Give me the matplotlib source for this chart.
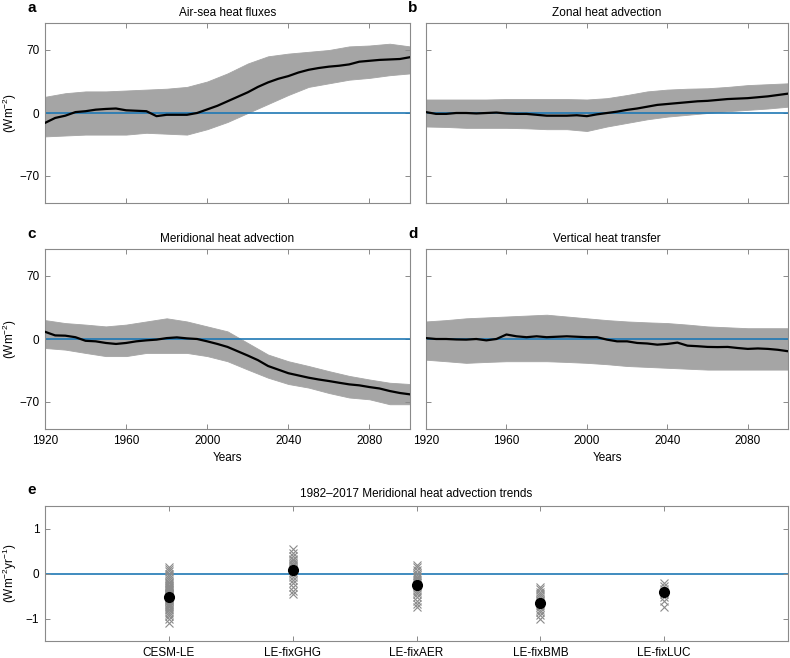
import numpy as np
import matplotlib
matplotlib.use("Agg")
import matplotlib.pyplot as plt

plt.rcParams['font.family'] = ['Liberation Sans', 'DejaVu Sans']
plt.rcParams['mathtext.default'] = 'regular'

# ---------------- data ----------------
years_mean = list(range(1920, 2101, 5))
years_env = list(range(1920, 2101, 10))

a_mean = [-11, -5.5, -3, 1, 2, 3.7, 4.5, 5, 3, 2.5, 2, -3.5, -2, -2, -2, 0, 4, 8, 13, 18,
          23, 29, 34, 38, 41, 45, 48, 50, 51.5, 52.5, 54, 57, 58, 59, 59.5, 60, 62]
a_upper = [18, 22, 24, 24, 25, 26, 27, 29, 35, 44, 55, 63, 66, 68, 70, 74, 75, 77, 74]
a_lower = [-26, -25, -24, -24, -24, -22, -23, -24, -18, -10, 0, 10, 20, 29, 33, 37, 39, 42, 44]

b_mean = [1, -1, -1, 0, 0, -0.5, 0, 0.5, -0.5, -1, -1, -2, -3, -3, -3, -2.5, -3.5, -1.5, 0, 1.5,
          3.5, 5, 7, 9, 10, 11, 12, 13, 13.5, 14.5, 15.5, 16, 16.5, 17.5, 18.5, 20, 21.5]
b_upper = [15, 15, 15, 15, 15.5, 15.5, 15.5, 15.5, 15, 16.5, 20, 24, 26, 27, 27.5, 29, 31, 32, 33]
b_lower = [-15, -15.5, -16.5, -16.5, -16.5, -17, -18, -18, -20, -15, -11, -7, -4, -2, 0, 2, 3.5, 5, 7]

c_mean = [8, 4, 3.7, 2, -2, -2.6, -4.4, -5.5, -4.4, -2.6, -1.5, -0.7, 1, 1.8, 0.7, 0, -2.6, -5.5,
          -8.8, -13.6, -18.4, -23.5, -30, -34, -38, -40.5, -43, -45, -46.7, -48.6, -50.4, -51.5,
          -53.4, -55, -57.8, -60, -61.5]
c_upper = [21, 17.7, 16, 14, 16, 19.5, 23, 19.5, 14, 8.5, -4.4, -17.3, -24.7, -30, -35.7, -41, -45, -48.6, -50]
c_lower = [-10, -11.8, -15.5, -19, -19, -15.5, -15.5, -15.5, -19, -24.7, -34, -43, -50, -54, -60, -65, -67, -72.5, -72.5]

d_mean = [1, 0, 0, -0.5, -0.7, 0, -1.5, 0, 5, 3, 2, 3, 2, 2.5, 3, 2.5, 2, 2, -0.7, -2.6,
          -2.6, -4.4, -5, -6.3, -5.5, -4, -7.4, -8, -8.8, -9, -8.8, -10, -11, -10.5, -11, -12, -13.6]
d_upper = [19.5, 21, 23, 24, 25, 26, 27, 25, 23, 21, 19.5, 18.5, 17.7, 16, 14, 13, 12, 12, 12]
d_lower = [-23, -24.7, -26.5, -25.5, -24.7, -24.7, -24.7, -25.5, -26.5, -28, -30, -31, -32, -33, -34, -34, -34, -34, -34]

panel_titles = ["Air-sea heat fluxes", "Zonal heat advection",
                "Meridional heat advection", "Vertical heat transfer"]

e_categories = ["CESM-LE", "LE-fixGHG", "LE-fixAER", "LE-fixBMB", "LE-fixLUC"]
e_members = [
    [-1.10, -1.02, -0.95, -0.90, -0.86, -0.82, -0.78, -0.75, -0.72, -0.70, -0.67, -0.65, -0.62,
     -0.60, -0.58, -0.56, -0.54, -0.52, -0.50, -0.48, -0.46, -0.45, -0.43, -0.41, -0.39, -0.37,
     -0.35, -0.33, -0.30, -0.28, -0.25, -0.22, -0.19, -0.15, -0.10, -0.05, 0.00, 0.05, 0.10, 0.15],
    [-0.45, -0.38, -0.30, -0.22, -0.15, -0.08, -0.02, 0.03, 0.07, 0.10, 0.13, 0.16, 0.19, 0.22,
     0.25, 0.29, 0.33, 0.38, 0.45, 0.55],
    [-0.75, -0.68, -0.60, -0.52, -0.46, -0.41, -0.36, -0.32, -0.28, -0.25, -0.22, -0.19, -0.15,
     -0.11, -0.07, -0.03, 0.02, 0.08, 0.14, 0.20],
    [-1.00, -0.93, -0.86, -0.80, -0.75, -0.70, -0.66, -0.62, -0.58, -0.54, -0.50, -0.45, -0.40,
     -0.35, -0.30],
    [-0.75, -0.62, -0.52, -0.45, -0.40, -0.35, -0.28, -0.22],
]
e_means = [-0.52, 0.08, -0.25, -0.65, -0.42]
e_title = "1982\u20132017 Meridional heat advection trends"

# ---------------- style ----------------
W, H = 790, 658
fig = plt.figure(figsize=(W / 100, H / 100), dpi=100)

SPINE = '#8a8a8a'
GRAY = '#a5a5a5'
BLUE = '#1f78b4'
FS = 8.5


def px_axes(x0, y0, x1, y1):
    return fig.add_axes([x0 / W, 1 - y1 / H, (x1 - x0) / W, (y1 - y0) / H])


def style(ax):
    for s in ax.spines.values():
        s.set_color(SPINE)
        s.set_linewidth(0.8)
    ax.tick_params(direction='in', length=3.5, width=0.7, color=SPINE, labelsize=FS,
                   top=True, right=True, pad=4)


boxes = [(45, 23, 410, 203), (426, 23, 788, 203), (45, 249, 410, 429), (426, 249, 788, 429)]
means = [a_mean, b_mean, c_mean, d_mean]
uppers = [a_upper, b_upper, c_upper, d_upper]
lowers = [a_lower, b_lower, c_lower, d_lower]
letters = ['a', 'b', 'c', 'd']

for i in range(4):
    x0, y0, x1, y1 = boxes[i]
    ax = px_axes(x0, y0, x1, y1)
    ax.fill_between(years_env, lowers[i], uppers[i], color=GRAY, lw=0.6, edgecolor=GRAY, zorder=1)
    ax.axhline(0, color=BLUE, lw=1.2, zorder=2)
    ax.plot(years_mean, means[i], color='black', lw=1.6, zorder=3)
    ax.set_xlim(1920, 2100)
    ax.set_ylim(-100, 100)
    ax.set_xticks([1920, 1960, 2000, 2040, 2080])
    ax.set_yticks([-70, 0, 70])
    style(ax)
    if i < 2:
        ax.set_xticklabels([])
    else:
        ax.set_xlabel("Years", fontsize=FS, labelpad=4)
    if i % 2 == 1:
        ax.set_yticklabels([])
    else:
        fig.text(10 / W, 1 - ((y0 + y1) / 2) / H, "(Wm$^{-2}$)", rotation=90,
                 ha='center', va='center', fontsize=FS)
    fig.text(((x0 + x1) / 2) / W, 1 - (y0 - 10) / H, panel_titles[i],
             ha='center', va='center', fontsize=FS)
    fig.text((x0 - 13) / W, 1 - (y0 - 15) / H, letters[i], ha='center', va='center',
             fontsize=11, fontweight='bold')

# panel e
x0, y0, x1, y1 = 45, 506, 788, 641
ax = px_axes(x0, y0, x1, y1)
ax.axhline(0, color=BLUE, lw=1.2, zorder=1)
for k, vals in enumerate(e_members):
    ax.plot([k + 1] * len(vals), vals, linestyle='none', marker='x', markersize=6,
            markeredgewidth=0.8, color='#8c8c8c', zorder=2)
ax.plot(range(1, len(e_means) + 1), e_means, linestyle='none', marker='o', markersize=7,
        color='black', zorder=3)
ax.set_xlim(0, 6)
ax.set_ylim(-1.5, 1.5)
ax.set_xticks(range(1, len(e_categories) + 1))
ax.set_xticklabels(e_categories)
ax.set_yticks([-1, 0, 1])
style(ax)
fig.text(10 / W, 1 - ((y0 + y1) / 2) / H, "(Wm$^{-2}$yr$^{-1}$)", rotation=90,
         ha='center', va='center', fontsize=FS)
fig.text(((x0 + x1) / 2) / W, 1 - (y0 - 12) / H, e_title, ha='center', va='center', fontsize=FS)
fig.text((x0 - 13) / W, 1 - (y0 - 16) / H, 'e', ha='center', va='center',
         fontsize=11, fontweight='bold')

fig.savefig("out.png", dpi=100)
